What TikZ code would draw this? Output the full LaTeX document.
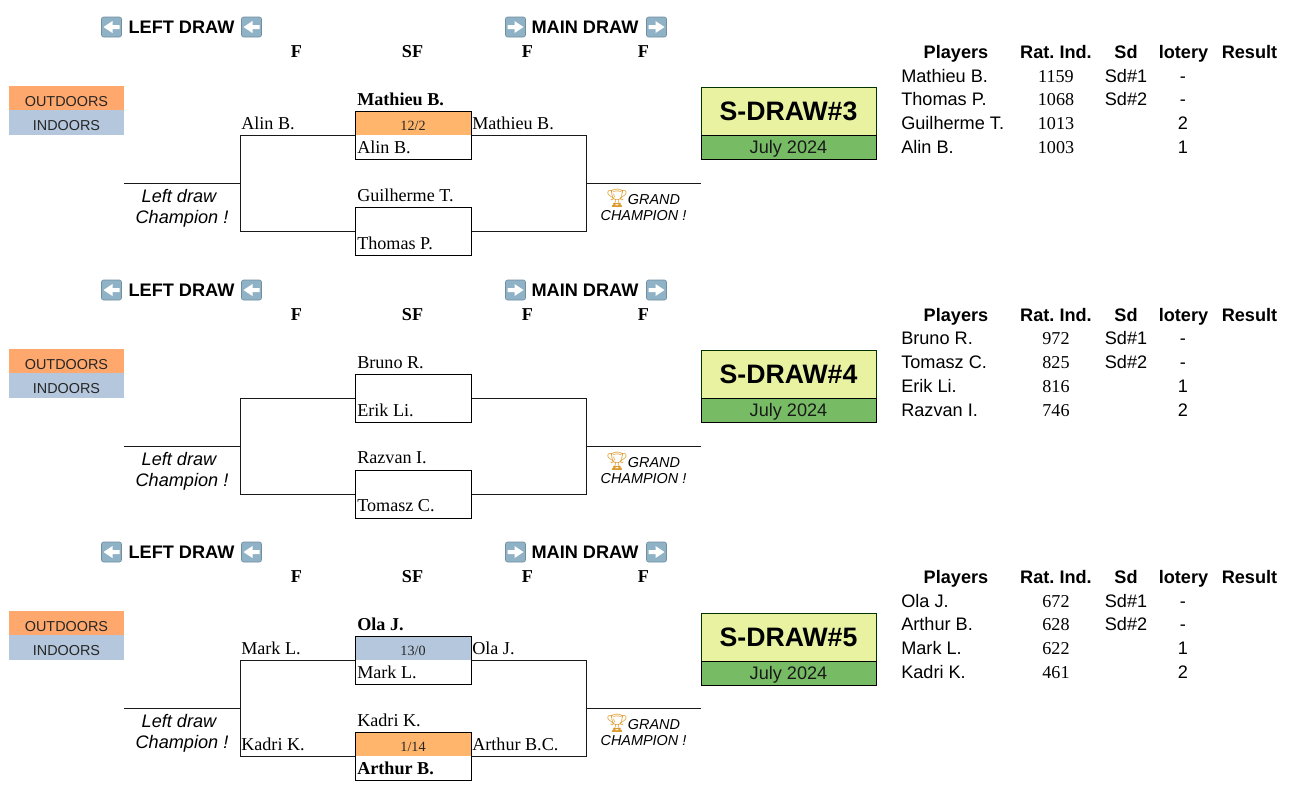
\documentclass[tikz,border=0pt]{standalone}
\usepackage{fontspec}
\setmainfont{Liberation Serif}
\setsansfont{Liberation Sans}
\newfontfamily\emojifont{Noto Emoji}
\usetikzlibrary{calc}
\definecolor{outc}{HTML}{FFA86D}
\definecolor{inc}{HTML}{B4C7DC}
\definecolor{scoreo}{HTML}{FFB66C}
\definecolor{lime}{HTML}{E8F2A1}
\definecolor{jul}{HTML}{77BC65}
\definecolor{icon}{HTML}{8FB2C6}
\definecolor{trophy}{HTML}{DE9A2E}
\frenchspacing
\tikzset{
  x=.75pt,y=-.75pt,
  sans18/.style={font=\sffamily\fontsize{13.6}{16}\selectfont,inner sep=0pt,text=black},
  serif18/.style={font=\fontsize{13.6}{16}\selectfont,inner sep=0pt,text=black},
  headb/.style={sans18,font=\sffamily\bfseries\fontsize{13.6}{16}\selectfont},
  heads/.style={serif18,font=\bfseries\fontsize{13.6}{16}\selectfont},
  namel/.style={serif18,anchor=base west},
  nameb/.style={namel,font=\bfseries\fontsize{13.6}{16}\selectfont},
  playerl/.style={sans18,anchor=base west},
  cellc/.style={sans18,anchor=base},
  ratec/.style={serif18,anchor=base},
  tag/.style={minimum width=86.25pt,inner sep=0pt,font=\sffamily\fontsize{10.8}{13}\selectfont,text=black!85},
  matchbox/.style={draw=black,line width=.75pt,minimum width=87pt,minimum height=36pt,inner sep=0pt},
  scorebox/.style={minimum width=87pt,minimum height=18pt,inner sep=0pt,font=\fontsize{10.6}{12}\selectfont,text=black!85,text height=10.8pt,text depth=.2pt},
  wire/.style={draw=black!90,line width=.75pt},
  titlebox/.style={draw=black!80!green,line width=.7pt,outer sep=0pt,fill=lime,minimum width=131.25pt,minimum height=36pt,inner sep=0pt,font=\sffamily\bfseries\fontsize{20}{24}\selectfont},
  datebox/.style={draw=black,line width=.7pt,outer sep=0pt,fill=jul,minimum width=131.25pt,minimum height=18pt,inner sep=0pt,font=\sffamily\fontsize{13.6}{16}\selectfont,text=black!90,text height=13pt,text depth=2.9pt},
  italic/.style={font=\sffamily\itshape\fontsize{13.6}{16}\selectfont,align=center,inner sep=0pt},
  grand/.style={font=\sffamily\itshape\fontsize{10.8}{12.4}\selectfont,align=center,inner sep=0pt},
  iconbox/.style={draw=icon!80!black,line width=.4pt,fill=icon,rounded corners=1.5pt,minimum size=15pt,inner sep=0pt},
}
% emoji square with a white arrow: name, x, y, direction (+1 right, -1 left)
\newcommand{\arrowicon}[4]{%
  \node[iconbox] (#1) at (#2,#3) {};
  \fill[white] ($(#1)+(#4*-8,-2)$) -- ($(#1)+(#4*-1,-2)$) -- ($(#1)+(#4*-1,-6)$) -- ($(#1)+(#4*8,0)$) -- ($(#1)+(#4*-1,6)$) -- ($(#1)+(#4*-1,2)$) -- ($(#1)+(#4*-8,2)$) -- cycle;
}
% #1 suffix, #2 offset, #3 offset of title box, #4 number
\newcommand{\common}[4]{%
  \pgfmathsetmacro{\o}{#2}
  \pgfmathsetmacro{\t}{#3}
  \arrowicon{la#1}{111.5}{27+\o}{-1}
  \node[headb,anchor=base] (lh#1) at (181.5,33.5+\o) {LEFT DRAW};
  \arrowicon{lb#1}{251.5}{27+\o}{-1}
  \arrowicon{ma#1}{515.5}{27+\o}{1}
  \node[headb,anchor=base] (mh#1) at (585,33.5+\o) {MAIN DRAW};
  \arrowicon{mb#1}{656.5}{27+\o}{1}
  \node[heads,anchor=base] (f1#1) at (296.5,57.5+\o) {F};
  \node[heads,anchor=base] (f2#1) at (412.5,57.5+\o) {SF};
  \node[heads,anchor=base] (f3#1) at (527.5,57.5+\o) {F};
  \node[heads,anchor=base] (f4#1) at (643.5,57.5+\o) {F};
  \node[tag,fill=outc,minimum height=18pt,text height=12.3pt] (out#1) at (66.5,98+\o) {OUTDOORS};
  \node[tag,fill=inc,minimum height=18.75pt,text height=11.6pt] (in#1) at (66.5,122.5+\o) {INDOORS};
  \node[italic] (ld#1) at (180.5,208+\o) {Left draw\hspace*{2.25pt}\\\hspace*{2.25pt}Champion !};
  \node[grand] (gc#1) at (643.5,205+\o) {\hspace*{-1pt}{\emojifont\color{trophy}\fontsize{13.5}{12}\selectfont\char"1F3C6}\hspace*{-.5pt}GRAND\\CHAMPION !};
  \node[matchbox] (ba#1) at (413,135+\o) {};
  \node[matchbox] (bb#1) at (413,231+\o) {};
  \coordinate (l0#1) at (124,183+\o);
  \coordinate (lm#1) at (240,183+\o);
  \coordinate (la1#1) at (240,135+\o);
  \coordinate (la2#1) at (240,231+\o);
  \coordinate (r1#1) at (586,135+\o);
  \coordinate (r2#1) at (586,231+\o);
  \coordinate (rm#1) at (586,183+\o);
  \coordinate (r0#1) at (701,183+\o);
  \draw[wire] (l0#1) -- (lm#1);
  \draw[wire] (ba#1.west) -- (la1#1) -- (la2#1) -- (bb#1.west);
  \draw[wire] (ba#1.east) -- (r1#1) -- (r2#1) -- (bb#1.east);
  \draw[wire] (rm#1) -- (r0#1);
  \node[titlebox] (ti#1) at (788.5,111+\t) {S-DRAW\##4};
  \node[datebox] (da#1) at (788.5,147+\t) {July 2024};
  \node[headb,anchor=base] (p0#1) at (956,58.5+\o) {Players};
  \node[headb,anchor=base] (p1#1) at (1056,58.5+\o) {Rat. Ind.};
  \node[headb,anchor=base] (p2#1) at (1126,58.5+\o) {Sd};
  \node[headb,anchor=base] (p3#1) at (1183.5,58.5+\o) {lotery};
  \node[headb,anchor=base] (p4#1) at (1249.5,58.5+\o) {Result};
}
% #1 suffix, #2 y of baseline, #3 player, #4 rating, #5 seed, #6 lottery
\newcommand{\tablerow}[6]{%
  \node[playerl] (n#1) at (901,#2) {#3};
  \node[ratec] (k#1) at (1056,#2) {#4};
  \node[cellc] (s#1) at (1126,#2) {#5};
  \node[cellc] (t#1) at (1183,#2) {#6};
}
\begin{document}
\begin{tikzpicture}
\useasboundingbox (0,0) rectangle (1289,790);
% ---------- draw 3
\node[scorebox,fill=scoreo] (sa1) at (413,123) {12/2};
\common{A}{0}{0}{3}
\node[nameb] (na1) at (357,105) {Mathieu B.};
\node[namel] (nb1) at (357,153) {Alin B.};
\node[namel] (nc1) at (357,201) {Guilherme T.};
\node[namel] (nd1) at (357,249) {Thomas P.};
\node[namel] (ne1) at (241,129) {Alin B.};
\node[namel] (nf1) at (472,129) {Mathieu B.};
\tablerow{a1}{82}{Mathieu B.}{1159}{Sd\#1}{-}
\tablerow{a2}{105}{Thomas P.}{1068}{Sd\#2}{-}
\tablerow{a3}{129}{Guilherme T.}{1013}{}{2}
\tablerow{a4}{153}{Alin B.}{1003}{}{1}
% ---------- draw 4
\common{B}{263}{263}{4}
\node[namel] (na2) at (357,368) {Bruno R.};
\node[namel] (nb2) at (357,416) {Erik Li.};
\node[namel] (nc2) at (357,463) {Razvan I.};
\node[namel] (nd2) at (357,511) {Tomasz C.};
\tablerow{b1}{344}{Bruno R.}{972}{Sd\#1}{-}
\tablerow{b2}{368}{Tomasz C.}{825}{Sd\#2}{-}
\tablerow{b3}{392}{Erik Li.}{816}{}{1}
\tablerow{b4}{416}{Razvan I.}{746}{}{2}
% ---------- draw 5
\node[scorebox,fill=inc] (sa3) at (413,648) {13/0};
\node[scorebox,fill=scoreo] (sb3) at (413,744) {1/14};
\common{C}{525}{526}{5}
\node[nameb] (na3) at (357,630) {Ola J.};
\node[namel] (nb3) at (357,678) {Mark L.};
\node[namel] (nc3) at (357,726) {Kadri K.};
\node[nameb] (nd3) at (357,774) {Arthur B.};
\node[namel] (ne3) at (241,654) {Mark L.};
\node[namel] (ng3) at (241,750) {Kadri K.};
\node[namel] (nf3) at (472,654) {Ola J.};
\node[namel] (nh3) at (472,750) {Arthur B.C.};
\tablerow{c1}{607}{Ola J.}{672}{Sd\#1}{-}
\tablerow{c2}{630}{Arthur B.}{628}{Sd\#2}{-}
\tablerow{c3}{654}{Mark L.}{622}{}{1}
\tablerow{c4}{678}{Kadri K.}{461}{}{2}
\end{tikzpicture}
\end{document}
